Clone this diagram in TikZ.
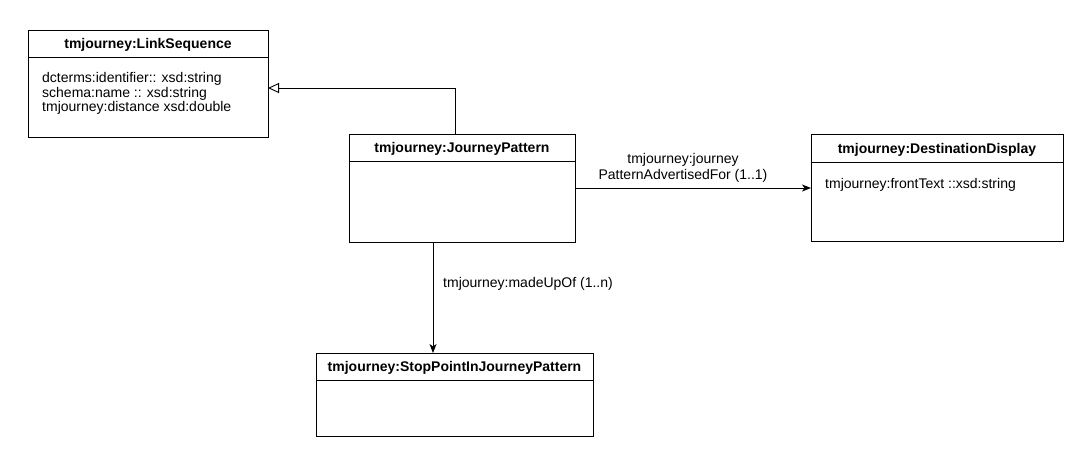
\documentclass[tikz,border=0pt]{standalone}
\usepackage{fontspec}
\setmainfont{Liberation Sans}
\usetikzlibrary{arrows.meta,calc}
\begin{document}
\begin{tikzpicture}[x=1pt,y=-1pt,
  box/.style={draw,line width=0.9pt,fill=white},
  title/.style={font=\fontsize{14}{14.5}\selectfont\bfseries,anchor=base},
  attr/.style={font=\fontsize{14}{14.5}\selectfont,anchor=base west,inner sep=0pt},
  lbl/.style={font=\fontsize{14}{16}\selectfont,inner sep=0pt,anchor=base},
  conn/.style={line width=0.9pt},
]
\useasboundingbox[fill=white] (0,0) rectangle (1084,456);
% LinkSequence
\draw[box] (28,30) rectangle (268,137);
\draw[line width=0.9pt] (28,57) -- (268,57);
\node[title] (lsT) at (148,48.5) {tmjourney:LinkSequence};
\node[attr] (lsA1) at (42,82.5) {dcterms:identifier:: xsd:string};
\node[attr] (lsA2) at (42,97) {schema:name :: xsd:string};
\node[attr] (lsA3) at (42,111.5) {tmjourney:distance xsd:double};
\coordinate (lsR) at (268,88);
% JourneyPattern
\draw[box] (349,134) rectangle (575,242);
\draw[line width=0.9pt] (349,161) -- (575,161);
\node[title] (jpT) at (462,152.5) {tmjourney:JourneyPattern};
\coordinate (jpTop) at (455,134);
\coordinate (jpR) at (575,188);
\coordinate (jpB) at (433,242);
% DestinationDisplay
\draw[box] (811,134) rectangle (1063,241);
\draw[line width=0.9pt] (811,162) -- (1063,162);
\node[title] (ddT) at (937,153) {tmjourney:DestinationDisplay};
\node[attr] (ddA) at (825,188) {tmjourney:frontText ::xsd:string};
\coordinate (ddL) at (811,188);
% StopPointInJourneyPattern
\draw[box] (316,353) rectangle (593,436);
\draw[line width=0.9pt] (316,380) -- (593,380);
\node[title] (spT) at (454.5,371.5) {tmjourney:StopPointInJourneyPattern};
\coordinate (spTop) at (433,353);
% connectors
\draw[conn,-{Triangle[open,length=11pt,width=10pt]}] (jpTop) -- (455,88) -- (lsR);
\draw[conn,-{Stealth[length=9pt,width=7pt,inset=2.5pt]}] (jpR) -- (ddL);
\draw[conn,-{Stealth[length=9pt,width=7pt,inset=2.5pt]}] (jpB) -- (spTop);
\node[lbl] (l1a) at (683,163) {tmjourney:journey};
\node[lbl] (l1b) at (683,179) {PatternAdvertisedFor (1..1)};
\node[lbl,anchor=base west] (l2) at (443,287) {tmjourney:madeUpOf (1..n)};
\end{tikzpicture}
\end{document}
